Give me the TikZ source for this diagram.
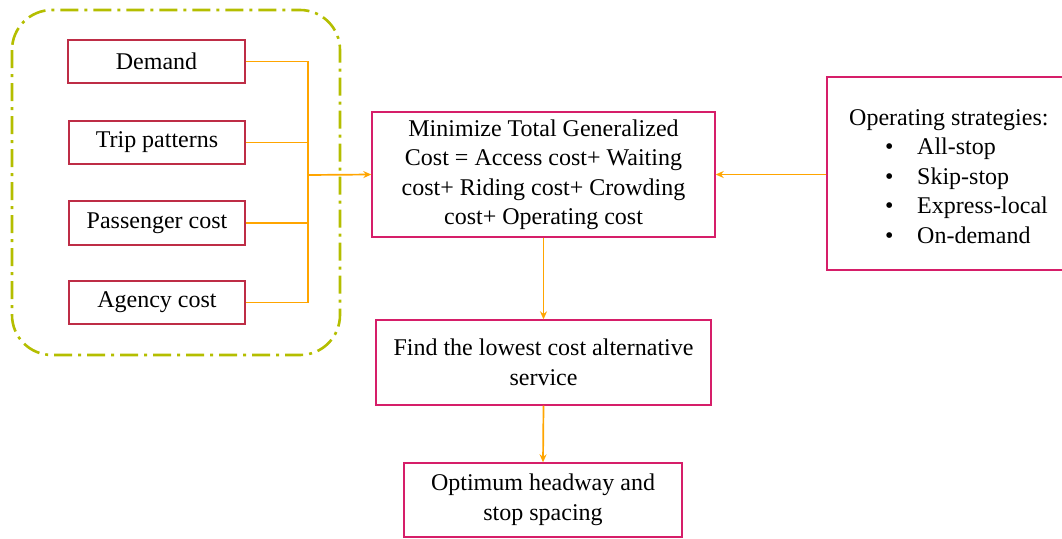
\documentclass[tikz,border=0pt]{standalone}
\usepackage{fontspec}
\setmainfont{Liberation Serif}
\usetikzlibrary{arrows.meta}
\definecolor{leftred}{RGB}{190,45,70}
\definecolor{boxpink}{RGB}{214,30,105}
\definecolor{lineorange}{RGB}{255,165,0}
\definecolor{olivedash}{RGB}{180,190,0}
\tikzset{
  inbox/.style={draw=leftred, line width=1.4pt, inner sep=0pt, align=center},
  mainbox/.style={draw=boxpink, line width=1.4pt, inner sep=0pt, align=center},
  conn/.style={draw=lineorange, line width=1.7pt},
  arr/.style={conn, -{Stealth[length=8pt,width=7pt]}},
  groupbox/.style={draw=olivedash, line width=2.6pt, rounded corners=40pt, dash pattern=on 18pt off 6pt on 3pt off 6pt}
}
\begin{document}
\begin{tikzpicture}[x=1pt,y=-1pt,font=\fontsize{24}{29.5}\selectfont]
\useasboundingbox (0,0) rectangle (1062,538);
\clip (0,0) rectangle (1062,538);
\draw[groupbox] (12,10) rectangle (340,355);
\node[inbox, minimum width=177pt, minimum height=43pt] (demand) at (156.5,61.5) {Demand};
\node[inbox, minimum width=176pt, minimum height=43pt] (trip) at (157,142.5) {Trip patterns};
\node[inbox, minimum width=176pt, minimum height=44pt] (pass) at (157,223) {Passenger cost};
\node[inbox, minimum width=176pt, minimum height=43pt] (agency) at (157,302.5) {Agency cost};
\node[mainbox, minimum width=343pt, minimum height=125pt] (main) at (543.5,174.5) {\raisebox{-4pt}{\begin{tabular}{@{}c@{}}Minimize Total Generalized\\Cost = Access cost+ Waiting\\cost+ Riding cost+ Crowding\\cost+ Operating cost\end{tabular}}};
\node[mainbox, minimum width=335pt, minimum height=85pt] (find) at (543.5,362.5) {Find the lowest cost alternative\\service};
\node[mainbox, minimum width=278pt, minimum height=74pt] (opt) at (543,500) {Optimum headway and\\stop spacing};
\node[mainbox, minimum width=248pt, minimum height=193pt] (ops) at (951,173.5) {};
\node[anchor=west, align=left, inner sep=0pt] (opstext) at (849,176.5) {Operating strategies:\\\hspace*{36pt}\makebox[32pt][l]{\textbullet}All-stop\\\hspace*{36pt}\makebox[32pt][l]{\textbullet}Skip-stop\\\hspace*{36pt}\makebox[32pt][l]{\textbullet}Express-local\\\hspace*{36pt}\makebox[32pt][l]{\textbullet}On-demand};
\coordinate (bus) at (308,175);
\draw[conn] (demand.east) -| (bus);
\draw[conn] (agency.east) -| (bus);
\draw[conn] (trip.east) -| (bus);
\draw[conn] (pass.east) -| (bus);
\draw[arr] (bus) -- (main.west);
\draw[arr] (ops.west |- main.east) -- (main.east);
\draw[arr] (main.south) -- (find.north);
\draw[arr] (find.south) -- (opt.north);
\end{tikzpicture}
\end{document}
